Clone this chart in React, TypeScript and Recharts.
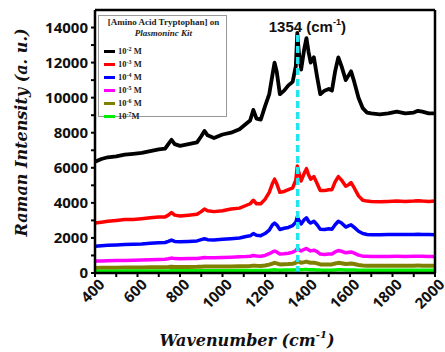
import React from 'react';
import { LineChart, Line, XAxis, YAxis, ReferenceLine, Legend, Label } from 'recharts';

const wavenumber = [400, 430, 460, 500, 540, 580, 620, 660, 700, 730, 745, 760, 775, 800, 840, 880, 900, 915, 930, 960, 1000, 1040, 1080, 1110, 1130, 1145, 1160, 1180, 1200, 1220, 1235, 1245, 1255, 1270, 1290, 1310, 1330, 1345, 1352, 1360, 1370, 1385, 1395, 1405, 1415, 1430, 1445, 1460, 1480, 1500, 1515, 1530, 1545, 1560, 1580, 1595, 1605, 1620, 1640, 1660, 1680, 1700, 1740, 1780, 1820, 1860, 1900, 1920, 1940, 1970, 2000];

const conc1e2 = [6350, 6500, 6600, 6650, 6750, 6800, 6850, 6950, 7050, 7100, 7350, 7600, 7350, 7250, 7350, 7450, 7800, 8100, 7850, 7700, 7900, 8000, 8200, 8500, 8700, 9300, 8800, 8750, 9500, 10200, 11300, 12000, 11500, 10200, 10400, 10700, 10900, 11800, 13700, 12500, 11600, 12800, 13400, 12600, 12000, 12300, 11200, 10200, 10400, 10500, 10400, 11500, 12300, 11800, 11000, 11300, 11500, 10900, 10000, 9400, 9150, 9100, 9050, 9100, 9200, 9100, 9150, 9250, 9200, 9100, 9100];
const conc1e3 = [2850, 2900, 2950, 3000, 3050, 3050, 3100, 3150, 3200, 3200, 3300, 3450, 3300, 3250, 3300, 3350, 3500, 3650, 3550, 3500, 3550, 3650, 3700, 3850, 3950, 4150, 3950, 3950, 4200, 4600, 5100, 5350, 5100, 4600, 4650, 4750, 4850, 5300, 6100, 5700, 5250, 5700, 5950, 5600, 5350, 5500, 5100, 4700, 4700, 4750, 4750, 5200, 5500, 5300, 4950, 5050, 5150, 4850, 4400, 4150, 4100, 4080, 4060, 4080, 4100, 4080, 4100, 4120, 4100, 4080, 4100];
const conc1e4 = [1520, 1550, 1580, 1600, 1620, 1640, 1660, 1700, 1720, 1740, 1800, 1880, 1800, 1780, 1800, 1830, 1900, 1950, 1900, 1880, 1920, 1960, 2000, 2080, 2120, 2250, 2150, 2130, 2250, 2450, 2750, 2850, 2750, 2480, 2550, 2600, 2700, 2900, 3200, 3000, 2800, 3050, 3150, 2950, 2850, 2950, 2750, 2500, 2480, 2520, 2500, 2750, 2950, 2850, 2620, 2700, 2750, 2600, 2380, 2250, 2200, 2180, 2180, 2190, 2200, 2190, 2200, 2210, 2200, 2190, 2180];
const conc1e5 = [680, 690, 700, 710, 720, 730, 740, 760, 770, 780, 810, 850, 820, 810, 820, 830, 860, 880, 870, 870, 890, 900, 920, 940, 960, 1000, 970, 960, 1000, 1100, 1200, 1250, 1200, 1080, 1100, 1130, 1180, 1280, 1400, 1330, 1250, 1350, 1400, 1320, 1260, 1300, 1220, 1080, 1060, 1080, 1080, 1200, 1280, 1240, 1150, 1180, 1200, 1130, 1020, 960, 950, 940, 940, 945, 950, 945, 950, 955, 950, 945, 945];
const conc1e6 = [290, 295, 300, 305, 310, 315, 320, 325, 330, 335, 345, 360, 345, 340, 345, 350, 360, 370, 365, 365, 370, 375, 385, 390, 400, 420, 410, 405, 430, 480, 540, 580, 550, 490, 500, 510, 530, 580, 680, 640, 580, 620, 650, 610, 580, 590, 550, 490, 480, 490, 490, 540, 580, 560, 510, 530, 540, 510, 460, 430, 420, 420, 415, 420, 420, 418, 420, 422, 420, 418, 420];
const conc1e7 = [100, 102, 104, 106, 108, 110, 112, 114, 116, 118, 120, 125, 122, 122, 124, 126, 128, 132, 130, 130, 132, 134, 136, 138, 140, 145, 142, 142, 148, 160, 175, 185, 178, 162, 165, 168, 172, 185, 210, 200, 185, 195, 205, 192, 185, 188, 178, 165, 162, 164, 164, 175, 185, 180, 170, 174, 176, 170, 160, 155, 152, 150, 150, 151, 152, 151, 152, 153, 152, 151, 150];

const seriesKeys = ['m2', 'm3', 'm4', 'm5', 'm6', 'm7'];
const seriesValues = [conc1e2, conc1e3, conc1e4, conc1e5, conc1e6, conc1e7];
const seriesExponents = ['-2', '-3', '-4', '-5', '-6', '-7'];
const seriesUnits = [' M', ' M', ' M', ' M', ' M', 'M'];
const seriesColors = ['#000000', '#ff0000', '#0000ff', '#ff00ff', '#808000', '#00ee00'];
const seriesWidths = [3.8, 3.5, 3.5, 3.5, 4, 3.5];

const xTicks = [400, 500, 600, 700, 800, 900, 1000, 1100, 1200, 1300, 1400, 1500, 1600, 1700, 1800, 1900, 2000];
const yTicks = [0, 1000, 2000, 3000, 4000, 5000, 6000, 7000, 8000, 9000, 10000, 11000, 12000, 13000, 14000];
const peakPosition = 1354;
const peakTop = 13700;

const data = wavenumber.map((w, i) => {
  const row: Record<string, number> = { w };
  seriesKeys.forEach((k, j) => { row[k] = seriesValues[j][i]; });
  return row;
});

const tickFont = "'Open Sans', sans-serif";

const XTick = (props: any) => {
  const { x, y, payload } = props;
  if (payload.value % 200 !== 0) return null;
  return (
    <g transform={`translate(${x + 3},${y - 1})`}>
      <text transform="rotate(-45)" textAnchor="end" dy="0.71em" fontFamily={tickFont} fontWeight={700} fontSize={15} fill="#111">
        {payload.value}
      </text>
    </g>
  );
};

const YTick = (props: any) => {
  const { x, y, payload } = props;
  if (payload.value % 2000 !== 0) return null;
  return (
    <text x={x} y={y} dy="0.36em" textAnchor="end" fontFamily={tickFont} fontWeight={700} fontSize={15} fill="#111">
      {payload.value}
    </text>
  );
};

const LegendBox = (props: any) => {
  const payload = props.payload || [];
  return (
    <div style={{ width: 129, height: 102, border: '1px solid #999', background: '#fff', fontFamily: "'Liberation Serif', serif", fontWeight: 700, color: '#222', boxSizing: 'border-box', position: 'relative' }}>
      <div style={{ position: 'absolute', top: 1, left: 0, width: 129, textAlign: 'center', fontSize: 9, lineHeight: '10px' }}>[Amino Acid Tryptophan] on</div>
      <div style={{ position: 'absolute', top: 12, left: 0, width: 129, textAlign: 'center', fontSize: 9, lineHeight: '10px', fontStyle: 'italic' }}>Plasmoninc Kit</div>
      {payload.map((entry: any, i: number) => (
        <div key={i} style={{ position: 'absolute', left: 5, top: 30 + i * 13, height: 10, display: 'flex', alignItems: 'center', fontSize: 8.5, lineHeight: '10px' }}>
          <span style={{ display: 'inline-block', width: 11, height: 3, background: entry.color, marginRight: 3 }} />
          <span>10<sup style={{ fontSize: 6, verticalAlign: 'top', lineHeight: '6px' }}>{seriesExponents[i]}</sup>{seriesUnits[i]}</span>
        </div>
      ))}
    </div>
  );
};

const PeakLabel = (props: any) => {
  const vb = props.viewBox || {};
  const x = vb.x - 29;
  const y = vb.y - 1;
  return (
    <text x={x} y={y} fontFamily="'Liberation Sans', Arial, sans-serif" fontWeight={700} fontSize={15} fill="#111">
      <tspan>{peakPosition} (cm</tspan>
      <tspan fontSize={9} dy={-7}>-1</tspan>
      <tspan dy={7}>)</tspan>
    </text>
  );
};

const XTitle = (props: any) => {
  const vb = props.viewBox || {};
  return (
    <text x={vb.x + vb.width / 2 - 18} y={vb.y + 73} textAnchor="middle" fontFamily="'DejaVu Serif', serif" fontWeight={700} fontStyle="italic" fontSize={16} fill="#111">
      <tspan>Wavenumber (cm</tspan>
      <tspan fontSize={10} dy={-8}>-1</tspan>
      <tspan dy={8}>)</tspan>
    </text>
  );
};

const YTitle = (props: any) => {
  const vb = props.viewBox || {};
  const cx = 21;
  const cy = vb.y + vb.height / 2 - 9;
  return (
    <text x={cx} y={cy} transform={`rotate(-90, ${cx}, ${cy})`} textAnchor="middle" dominantBaseline="central" fontFamily="'DejaVu Serif', serif" fontWeight={700} fontStyle="italic" fontSize={16} fill="#111">
      Raman Intensity (a. u.)
    </text>
  );
};

export default function App() {
  return (
    <div style={{ position: 'absolute', left: 0, top: 0, width: 445, height: 352, background: '#fff' }}>
      <LineChart width={445} height={352} data={data} margin={{ top: 0, right: 0, bottom: 0, left: 0 }}>
        <XAxis dataKey="w" type="number" domain={[400, 2000]} ticks={xTicks} interval={0} height={79}
          axisLine={{ stroke: '#000', strokeWidth: 2.5 }} tickLine={{ stroke: '#000', strokeWidth: 2 }} tickSize={4} tick={<XTick />}>
          <Label content={<XTitle />} />
        </XAxis>
        <XAxis xAxisId="top" orientation="top" type="number" dataKey="w" domain={[400, 2000]} height={10} tick={false} tickLine={false} axisLine={{ stroke: '#000', strokeWidth: 2.5 }} />
        <YAxis type="number" domain={[0, 15000]} ticks={yTicks} interval={0} width={95}
          axisLine={{ stroke: '#000', strokeWidth: 2.5 }} tickLine={{ stroke: '#000', strokeWidth: 2 }} tickSize={4} tickMargin={3} tick={<YTick />}>
          <Label content={<YTitle />} />
        </YAxis>
        <YAxis yAxisId="right" orientation="right" type="number" domain={[0, 15000]} width={10} tick={false} tickLine={false} axisLine={{ stroke: '#000', strokeWidth: 2.5 }} />
        {seriesKeys.map((k, i) => (
          <Line key={k} dataKey={k} name={`10^${seriesExponents[i]}${seriesUnits[i]}`} stroke={seriesColors[i]} strokeWidth={seriesWidths[i]} strokeLinejoin="round" dot={false} isAnimationActive={false} type="linear" />
        ))}
        <ReferenceLine segment={[{ x: peakPosition, y: 0 }, { x: peakPosition, y: peakTop }]} stroke="#22e5f0" strokeWidth={3.5} strokeDasharray="7 4" label={<PeakLabel />} />
        <Legend layout="vertical" align="center" verticalAlign="middle" content={<LegendBox />}
          wrapperStyle={{ left: 98, top: 15, width: 129, height: 102 }} />
      </LineChart>
    </div>
  );
}
